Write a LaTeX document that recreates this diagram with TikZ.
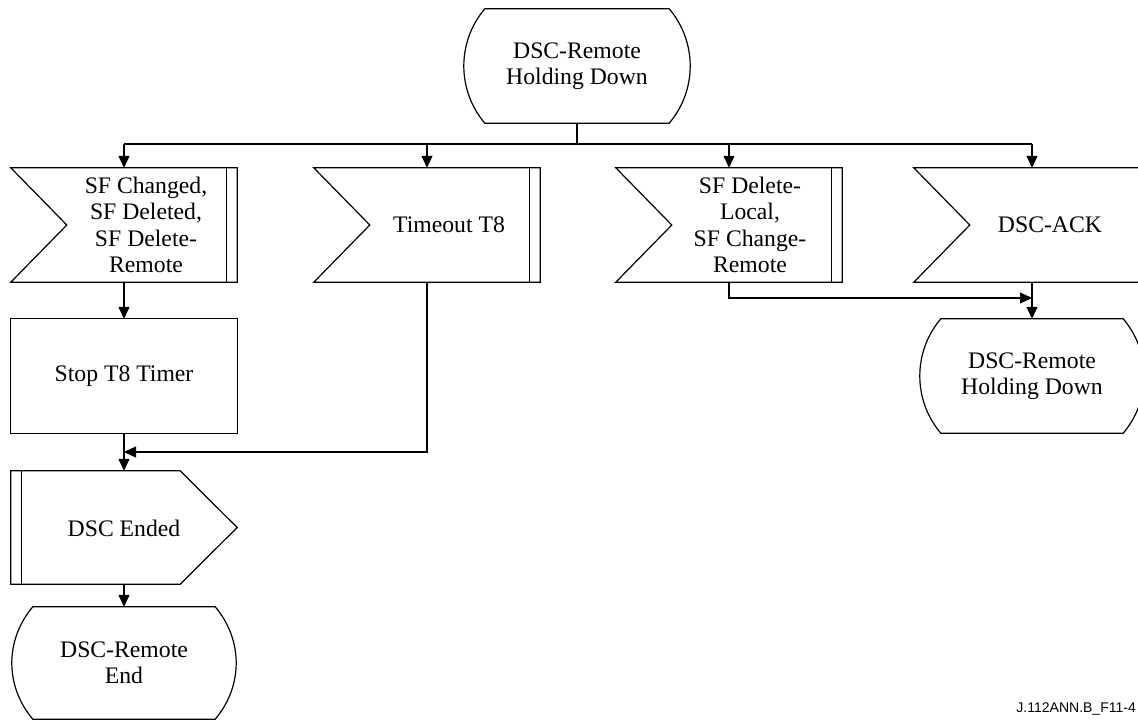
\documentclass[tikz,border=0pt]{standalone}
\usepackage{fontspec}
\setmainfont{Liberation Serif}
\setsansfont{Liberation Sans}
\usetikzlibrary{arrows.meta,calc}
\begin{document}
\begin{tikzpicture}[x=1pt,y=-1pt,
  frame/.style={draw=none,minimum width=226pt,minimum height=114pt,inner sep=0pt},
  txt/.style={align=center,inner sep=0pt,font=\fontsize{23.7}{26.5}\selectfont},
  ln/.style={line width=1.2pt,line join=miter},
  arr/.style={ln,-{Triangle[length=12pt,width=11pt]}}]
\useasboundingbox (0,0) rectangle (1138,720);
\clip (0,0) rectangle (1138,720);
% frames
\node[frame] (s0) at (577,66) {};
\node[frame] (b1) at (124,225) {};
\node[frame] (b2) at (427,225) {};
\node[frame] (b3) at (729,225) {};
\node[frame,minimum width=236pt] (b4) at (1032,225) {};
\node[frame] (stop) at (124,376) {};
\node[frame,minimum height=113pt] (out) at (124,527.5) {};
\node[frame,minimum height=112pt] (endst) at (124,663) {};
\node[frame,minimum width=230pt] (rs) at (1032,376) {};
% texts
\node[txt] (t0) at (577,66) {DSC-Remote\\Holding Down};
\node[txt] (t1) at (146,225) {SF Changed,\\SF Deleted,\\SF Delete-\\Remote};
\node[txt] (t2) at (449,225) {Timeout T8};
\node[txt] (t3) at (750,225) {SF Delete-\\Local,\\SF Change-\\Remote};
\node[txt] (t4) at (1050,225) {DSC-ACK};
\node[txt] (t5) at (124,376) {Stop T8 Timer};
\node[txt] (t6) at (124,528) {DSC Ended};
\node[txt] (t7) at (124,663) {DSC-Remote\\End};
\node[txt] (t8) at (1032,376) {DSC-Remote\\Holding Down};
\node[anchor=base east,inner sep=0pt,font=\fontsize{14}{16}\selectfont\sffamily] (fig) at (1136,712) {J.112ANN.B\_F11-4};
% state shapes
\foreach \n/\d in {s0/21,endst/22,rs/24}{
  \draw[ln] ([xshift=\d pt]\n.north west) -- ([xshift=-\d pt]\n.north east)
    .. controls ([xshift=-\d pt+28pt,yshift=-33pt]\n.north east) and ([xshift=-\d pt+28pt,yshift=33pt]\n.south east) .. ([xshift=-\d pt]\n.south east)
    -- ([xshift=\d pt]\n.south west)
    .. controls ([xshift=\d pt-28pt,yshift=33pt]\n.south west) and ([xshift=\d pt-28pt,yshift=-33pt]\n.north west) .. cycle;
}
% input signal shapes
\foreach \n in {b1,b2,b3,b4}{
  \draw[ln] (\n.north west) -- (\n.north east) -- (\n.south east) -- (\n.south west) -- ([xshift=56pt]\n.west) -- cycle;
  \draw[ln] ([xshift=-11pt]\n.north east) -- ([xshift=-11pt]\n.south east);
}
% task box
\draw[ln] (stop.north west) rectangle (stop.south east);
% output signal
\draw[ln] (out.north west) -- ([xshift=-57pt]out.north east) -- (out.east) -- ([xshift=-57pt]out.south east) -- (out.south west) -- cycle;
\draw[ln] ([xshift=11pt]out.north west) -- ([xshift=11pt]out.south west);
% connectors
\coordinate (bus) at (577,144);
\coordinate (m) at (124,452);
\coordinate (j) at (1032,298);
\draw[ln] (s0.south) -- (bus);
\draw[ln] (bus -| b1.north) -- (bus -| b4.north);
\foreach \n in {b1,b2,b3,b4}{\draw[arr] (bus -| \n.north) -- (\n.north);}
\draw[arr] (b1.south) -- (stop.north);
\draw[arr] (stop.south) -- (out.north);
\draw[arr] (b2.south) |- (m);
\draw[arr] (out.south) -- (endst.north);
\draw[arr] (b3.south) |- (j);
\draw[arr] (b4.south) -- (rs.north);
\end{tikzpicture}
\end{document}
